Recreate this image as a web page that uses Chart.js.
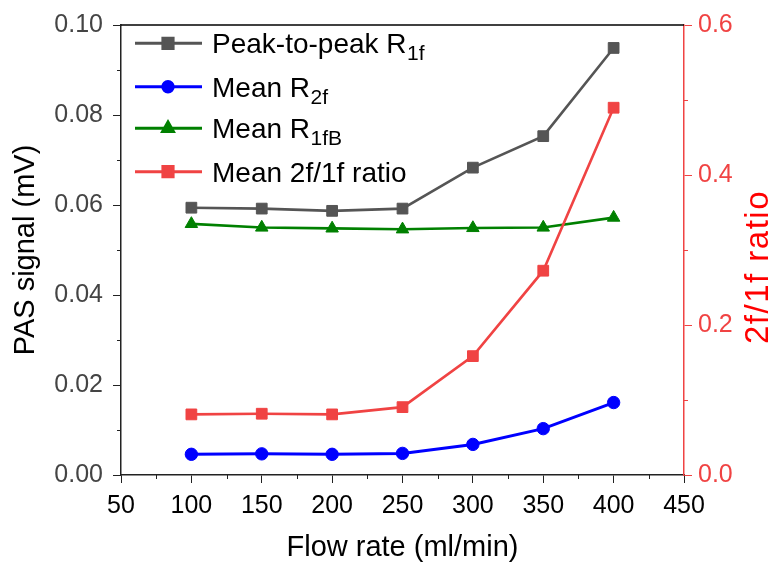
<!DOCTYPE html>
<html>
<head>
<meta charset="utf-8">
<script src="https://cdn.jsdelivr.net/npm/chart.js@4.4.1/dist/chart.umd.min.js"></script>
<style>
  html, body { margin: 0; padding: 0; background: #fff; }
  #wrap { width: 771px; height: 565px; }
</style>
</head>
<body>
<div id="wrap"><canvas id="c" width="771" height="565"></canvas></div>
<script>
// Flow rates (ml/min)
const flowRates = [100, 150, 200, 250, 300, 350, 400];
// PAS signal (mV)
const peakToPeakR1f = [0.0594, 0.0592, 0.0587, 0.0592, 0.0683, 0.0753, 0.0949];
const meanR2f       = [0.0046, 0.0047, 0.0046, 0.0048, 0.0068, 0.0103, 0.0161];
const meanR1fB      = [0.0558, 0.0550, 0.0548, 0.0546, 0.0549, 0.0550, 0.0572];
// 2f/1f ratio (right axis)
const meanRatio     = [0.0808, 0.0817, 0.0808, 0.0905, 0.1585, 0.2724, 0.4897];

const FONT = "'Liberation Sans', Arial, sans-serif";
const GRAY = '#555555', BLUE = '#0000ff', GREEN = '#008000', RED = '#f04343';

const pts = ys => flowRates.map((x, i) => ({ x, y: ys[i] }));

const series = [
  { label: 'Peak-to-peak R', sub: '1f',  data: peakToPeakR1f, color: GRAY,  style: 'rect',     r: 7.6, lr: 7.2, axis: 'y',  order: 2 },
  { label: 'Mean R',         sub: '2f',  data: meanR2f,       color: BLUE,  style: 'circle',   r: 6.2, lr: 5.2, axis: 'y',  order: 3 },
  { label: 'Mean R',         sub: '1fB', data: meanR1fB,      color: GREEN, style: 'triangle', r: 7.2, lr: 6.2, axis: 'y',  order: 4 },
  { label: 'Mean 2f/1f ratio', sub: '',  data: meanRatio,     color: RED,   style: 'rect',     r: 7.6, lr: 7.2, axis: 'y1', order: 1 }
];

// Minor ticks, top frame line, legend and right-hand title
const decorations = {
  id: 'decorations',
  afterDraw(chart) {
    const ctx = chart.ctx;
    const a = chart.chartArea;
    const sx = chart.scales.x, sy = chart.scales.y, sy1 = chart.scales.y1;
    ctx.save();
    // minor ticks
    ctx.lineWidth = 1;
    ctx.strokeStyle = '#222';
    for (let v = 75; v < 450; v += 50) {
      const px = Math.round(sx.getPixelForValue(v)) + 0.5;
      ctx.beginPath(); ctx.moveTo(px, a.bottom); ctx.lineTo(px, a.bottom + 4); ctx.stroke();
    }
    for (let v = 0.01; v < 0.1; v += 0.02) {
      const py = Math.round(sy.getPixelForValue(v)) + 0.5;
      ctx.beginPath(); ctx.moveTo(a.left, py); ctx.lineTo(a.left - 4, py); ctx.stroke();
    }
    ctx.strokeStyle = RED;
    for (let v = 0.1; v < 0.6; v += 0.2) {
      const py = Math.round(sy1.getPixelForValue(v)) + 0.5;
      ctx.beginPath(); ctx.moveTo(a.right, py); ctx.lineTo(a.right + 4, py); ctx.stroke();
    }
    // top frame
    ctx.strokeStyle = '#000';
    ctx.lineWidth = 1.5;
    ctx.beginPath(); ctx.moveTo(a.left, a.top); ctx.lineTo(a.right, a.top); ctx.stroke();

    // legend
    const x0 = 135, x1 = 202, xm = 168, xt = 212;
    const rows = [43.3, 86.7, 128.3, 171.7];
    series.forEach((s, i) => {
      const y = rows[i];
      ctx.strokeStyle = s.color;
      ctx.lineWidth = 3;
      ctx.beginPath(); ctx.moveTo(x0, y); ctx.lineTo(x1, y); ctx.stroke();
      ctx.fillStyle = s.color;
      Chart.helpers.drawPoint(ctx, { pointStyle: s.style, radius: s.lr, rotation: 0, borderWidth: 1 }, xm, y);
      ctx.fillStyle = '#000';
      ctx.textBaseline = 'alphabetic';
      ctx.textAlign = 'left';
      ctx.font = '28px ' + FONT;
      ctx.fillText(s.label, xt, y + 10);
      if (s.sub) {
        const w = ctx.measureText(s.label).width;
        ctx.font = '21px ' + FONT;
        ctx.fillText(s.sub, xt + w + 0.5, y + 17);
      }
    });

    // right axis title
    ctx.translate(758.5, 267);
    ctx.rotate(-Math.PI / 2);
    ctx.fillStyle = '#ff0000';
    ctx.font = '33px ' + FONT;
    ctx.letterSpacing = '1.5px';
    ctx.textAlign = 'center';
    ctx.textBaseline = 'middle';
    ctx.fillText('2f/1f ratio', 0, 0);
    ctx.restore();
  }
};

new Chart(document.getElementById('c'), {
  type: 'line',
  data: {
    datasets: series.map(s => ({
      label: s.label + s.sub,
      data: pts(s.data),
      yAxisID: s.axis,
      order: s.order,
      borderColor: s.color,
      backgroundColor: s.color,
      borderWidth: s.color === BLUE ? 3 : 2.6,
      pointStyle: s.style,
      pointRadius: s.r,
      pointBorderWidth: 1,
      pointBackgroundColor: s.color,
      pointBorderColor: s.color,
      tension: 0
    }))
  },
  options: {
    responsive: false,
    animation: false,
    events: [],
    layout: { padding: { top: 22, left: 0, right: 0, bottom: 0 } },
    plugins: { legend: { display: false }, tooltip: { enabled: false } },
    scales: {
      x: {
        type: 'linear', min: 50, max: 450,
        afterFit: s => { s.height = 90; },
        ticks: { stepSize: 50, color: '#000', padding: 8, font: { family: FONT, size: 25 } },
        grid: { drawOnChartArea: false, drawTicks: true, tickLength: 8, color: '#222' },
        border: { display: true, color: '#222', width: 1.5 },
        title: { display: true, text: 'Flow rate (ml/min)', color: '#000', padding: { top: 0, bottom: 0 }, font: { family: FONT, size: 29 } }
      },
      y: {
        position: 'left', min: 0, max: 0.1,
        afterFit: s => { s.width = 121; },
        ticks: { stepSize: 0.02, color: '#444', padding: 10, font: { family: FONT, size: 25 }, callback: v => v.toFixed(2) },
        grid: { drawOnChartArea: false, drawTicks: true, tickLength: 8, color: '#222' },
        border: { display: true, color: '#222', width: 1.5 },
        title: { display: true, text: 'PAS signal (mV)', color: '#000', padding: { top: 9, bottom: 0 }, font: { family: FONT, size: 29 } }
      },
      y1: {
        position: 'right', min: 0, max: 0.6,
        afterFit: s => { s.width = 87; },
        ticks: { stepSize: 0.2, color: RED, padding: 6, font: { family: FONT, size: 25 }, callback: v => v.toFixed(1) },
        grid: { drawOnChartArea: false, drawTicks: true, tickLength: 8, color: RED },
        border: { display: true, color: RED, width: 1.5 }
      }
    }
  },
  plugins: [decorations]
});
</script>
</body>
</html>
